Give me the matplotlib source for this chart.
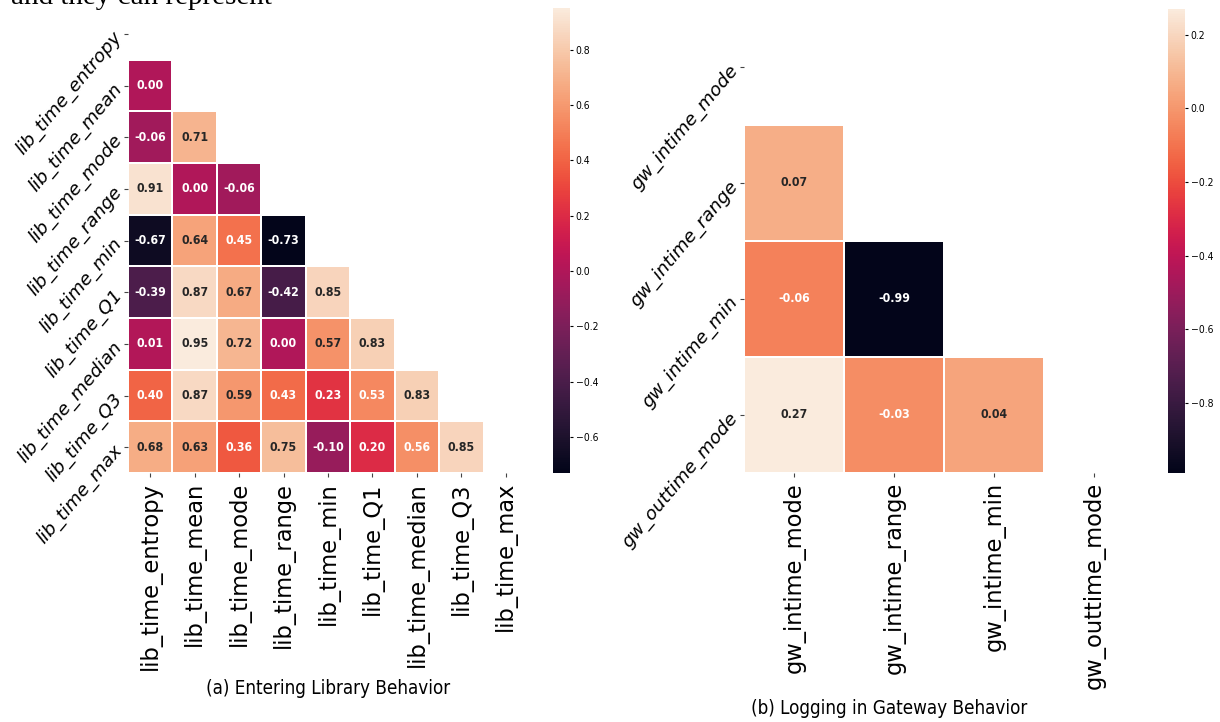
import os
import numpy as np
import pandas as pd
import matplotlib
matplotlib.use("Agg")
import matplotlib.pyplot as plt
from matplotlib import font_manager
from matplotlib.font_manager import FontProperties
from matplotlib.ticker import MultipleLocator
import seaborn as sns

# ---- data: lower-triangular correlation values, row by row ----
lib_labels = ["lib_time_entropy", "lib_time_mean", "lib_time_mode", "lib_time_range",
              "lib_time_min", "lib_time_Q1", "lib_time_median", "lib_time_Q3", "lib_time_max"]
lib_rows = [
    [],
    [0.00],
    [-0.06, 0.71],
    [0.91, 0.00, -0.06],
    [-0.67, 0.64, 0.45, -0.73],
    [-0.39, 0.87, 0.67, -0.42, 0.85],
    [0.01, 0.95, 0.72, 0.00, 0.57, 0.83],
    [0.40, 0.87, 0.59, 0.43, 0.23, 0.53, 0.83],
    [0.68, 0.63, 0.36, 0.75, -0.10, 0.20, 0.56, 0.85],
]

gw_labels = ["gw_intime_mode", "gw_intime_range", "gw_intime_min", "gw_outtime_mode"]
gw_rows = [
    [],
    [0.07],
    [-0.06, -0.99],
    [0.27, -0.03, 0.04],
]

caption_a = "(a) Entering Library Behavior"
caption_b = "(b) Logging in Gateway Behavior"
body_text = "and they can represent"


def corr_frame(rows, labels):
    n = len(labels)
    m = np.eye(n)
    for i, row in enumerate(rows):
        for j, v in enumerate(row):
            m[i, j] = v
            m[j, i] = v
    return pd.DataFrame(m, index=labels, columns=labels)


def find_file(name):
    for f in font_manager.fontManager.ttflist:
        if os.path.basename(f.fname).startswith(name):
            return f.fname
    return None


# narrow sans faces for annotations, captions and colorbar labels (if present)
reg_file = find_file("DejaVuSansCondensed.") or find_file("LiberationSansNarrow-Regular")
bold_file = find_file("DejaVuSansCondensed-Bold.") or find_file("LiberationSansNarrow-Bold.")


def narrow(size, bold=False):
    f = bold_file if bold else reg_file
    if f:
        return FontProperties(fname=f, size=size)
    return FontProperties(family="DejaVu Sans", size=size,
                          weight="bold" if bold else "normal", stretch="condensed")


W, H = 1220, 722
fig = plt.figure(figsize=(W / 100, H / 100), dpi=100)


def box(x0, y0, x1, y1):
    return [x0 / W, 1 - y1 / H, (x1 - x0) / W, (y1 - y0) / H]


ax1 = fig.add_axes(box(128, 8, 528, 473))
cax1 = fig.add_axes(box(553, 8, 570, 473))
ax2 = fig.add_axes(box(744, 9, 1144, 473))
cax2 = fig.add_axes(box(1168, 9, 1185, 473))


def draw(ax, cax, rows, labels, ylabel_size):
    df = corr_frame(rows, labels)
    mask = np.triu(np.ones_like(df.values, dtype=bool))
    sns.heatmap(df, mask=mask, annot=True, fmt=".2f", linewidths=1.2, linecolor="white",
                ax=ax, cbar_ax=cax, xticklabels=labels, yticklabels=labels,
                annot_kws={"fontproperties": narrow(8.8, bold=True)})
    n = len(labels)
    ax.set_xticks(np.arange(n) + 0.5)
    ax.set_xticklabels(labels, rotation=90, fontsize=16.3)
    ax.set_yticks(np.arange(n) + 0.5)
    ax.set_yticklabels(labels, rotation=50, ha="right", va="center",
                       rotation_mode="anchor", fontsize=ylabel_size, style="italic")
    ax.tick_params(length=3, width=0.8, color="#444444")
    cax.yaxis.set_major_locator(MultipleLocator(0.2))
    cax.tick_params(length=2.5, width=0.8, pad=1.5)
    for t in cax.get_yticklabels():
        t.set_fontproperties(narrow(7.5))


draw(ax1, cax1, lib_rows, lib_labels, 13.3)
draw(ax2, cax2, gw_rows, gw_labels, 13.3)

fig.text(328 / W, 1 - 688 / H, caption_a, ha="center", va="center", fontproperties=narrow(13.5))
fig.text(889 / W, 1 - 708 / H, caption_b, ha="center", va="center", fontproperties=narrow(13.5))
fig.text(11 / W, 1 - 3.5 / H, body_text, ha="left", va="baseline",
         family="Liberation Serif", fontsize=21)

fig.savefig("out.png", dpi=100)
